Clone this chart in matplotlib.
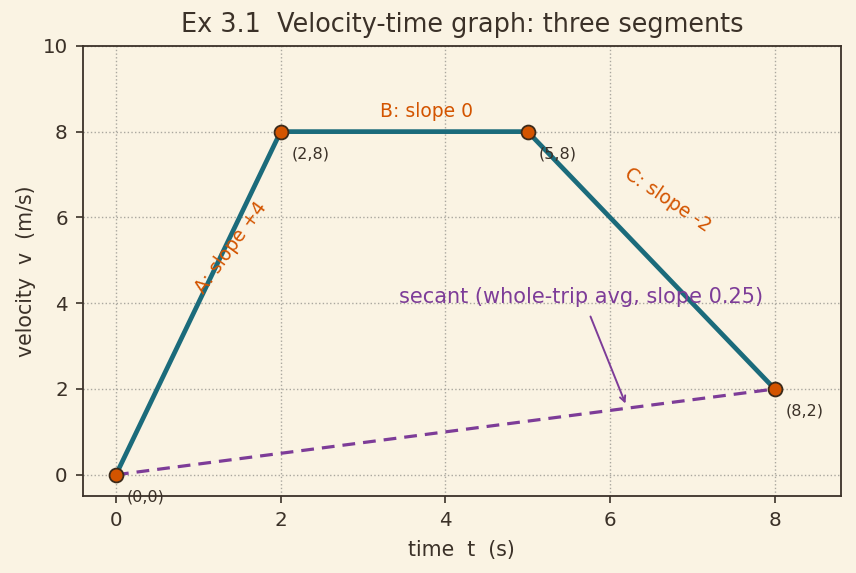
import matplotlib
matplotlib.use("Agg")
import matplotlib.pyplot as plt

t = [0, 2, 5, 8]
v = [0, 8, 8, 2]
point_labels = ["(0,0)", "(2,8)", "(5,8)", "(8,2)"]
secant_t = [0, 8]
secant_v = [0, 2]

BG = "#FAF3E3"
TXT = "#3b3128"
TEAL = "#1b6b7b"
ORANGE = "#d35400"
PURPLE = "#7d3c98"

plt.rcParams["font.family"] = "DejaVu Sans"
fig, ax = plt.subplots(figsize=(8.56, 5.73), dpi=100)
fig.patch.set_facecolor(BG)
ax.set_facecolor(BG)

ax.plot(t, v, color=TEAL, lw=3.4, zorder=3)
ax.plot(secant_t, secant_v, color=PURPLE, lw=2.3, ls=(0, (4, 2.5)), zorder=2)
ax.plot(t, v, ls="none", marker="o", ms=10, mfc=ORANGE, mec="#3b2a1a", mew=1.3, zorder=4)

for x, y, s in zip(t, v, point_labels):
    ax.annotate(s, (x, y), xytext=(8, -16), textcoords="offset points",
                ha="left", va="center", fontsize=11.5, color=TXT)

ax.text(1.4, 5.3, "A: slope +4", rotation=54, color=ORANGE, fontsize=13.5,
        ha="center", va="center", rotation_mode="anchor")
ax.text(3.77, 8.48, "B: slope 0", color=ORANGE, fontsize=13.5, ha="center", va="center")
ax.text(6.7, 6.4, "C: slope -2", rotation=-34, color=ORANGE, fontsize=13.5,
        ha="center", va="center", rotation_mode="anchor")

ax.text(5.65, 4.15, "secant (whole-trip avg, slope 0.25)", color=PURPLE, fontsize=15,
        ha="center", va="center")
ax.annotate("", xy=(6.2, 1.6), xytext=(5.75, 3.75),
            arrowprops=dict(arrowstyle="->", color=PURPLE, lw=1.4))

ax.set_xlim(-0.4, 8.8)
ax.set_ylim(-0.5, 10)
ax.set_xticks([0, 2, 4, 6, 8])
ax.set_yticks([0, 2, 4, 6, 8, 10])
ax.grid(True, ls=":", color="#aaa79f", lw=1)
ax.set_axisbelow(True)
ax.tick_params(colors=TXT, labelsize=14.3, length=5, width=1.2, pad=6)
for sp in ax.spines.values():
    sp.set_color(TXT)
    sp.set_linewidth(1.3)

ax.set_xlabel("time  t  (s)", fontsize=14.8, color=TXT, labelpad=7)
ax.set_ylabel("velocity  v  (m/s)", fontsize=14.8, color=TXT, labelpad=5)
ax.set_title("Ex 3.1  Velocity-time graph: three segments", fontsize=18.4, color=TXT, pad=10)

fig.subplots_adjust(left=0.097, right=0.982, top=0.92, bottom=0.134)
fig.savefig("out.png", dpi=100, facecolor=BG)
